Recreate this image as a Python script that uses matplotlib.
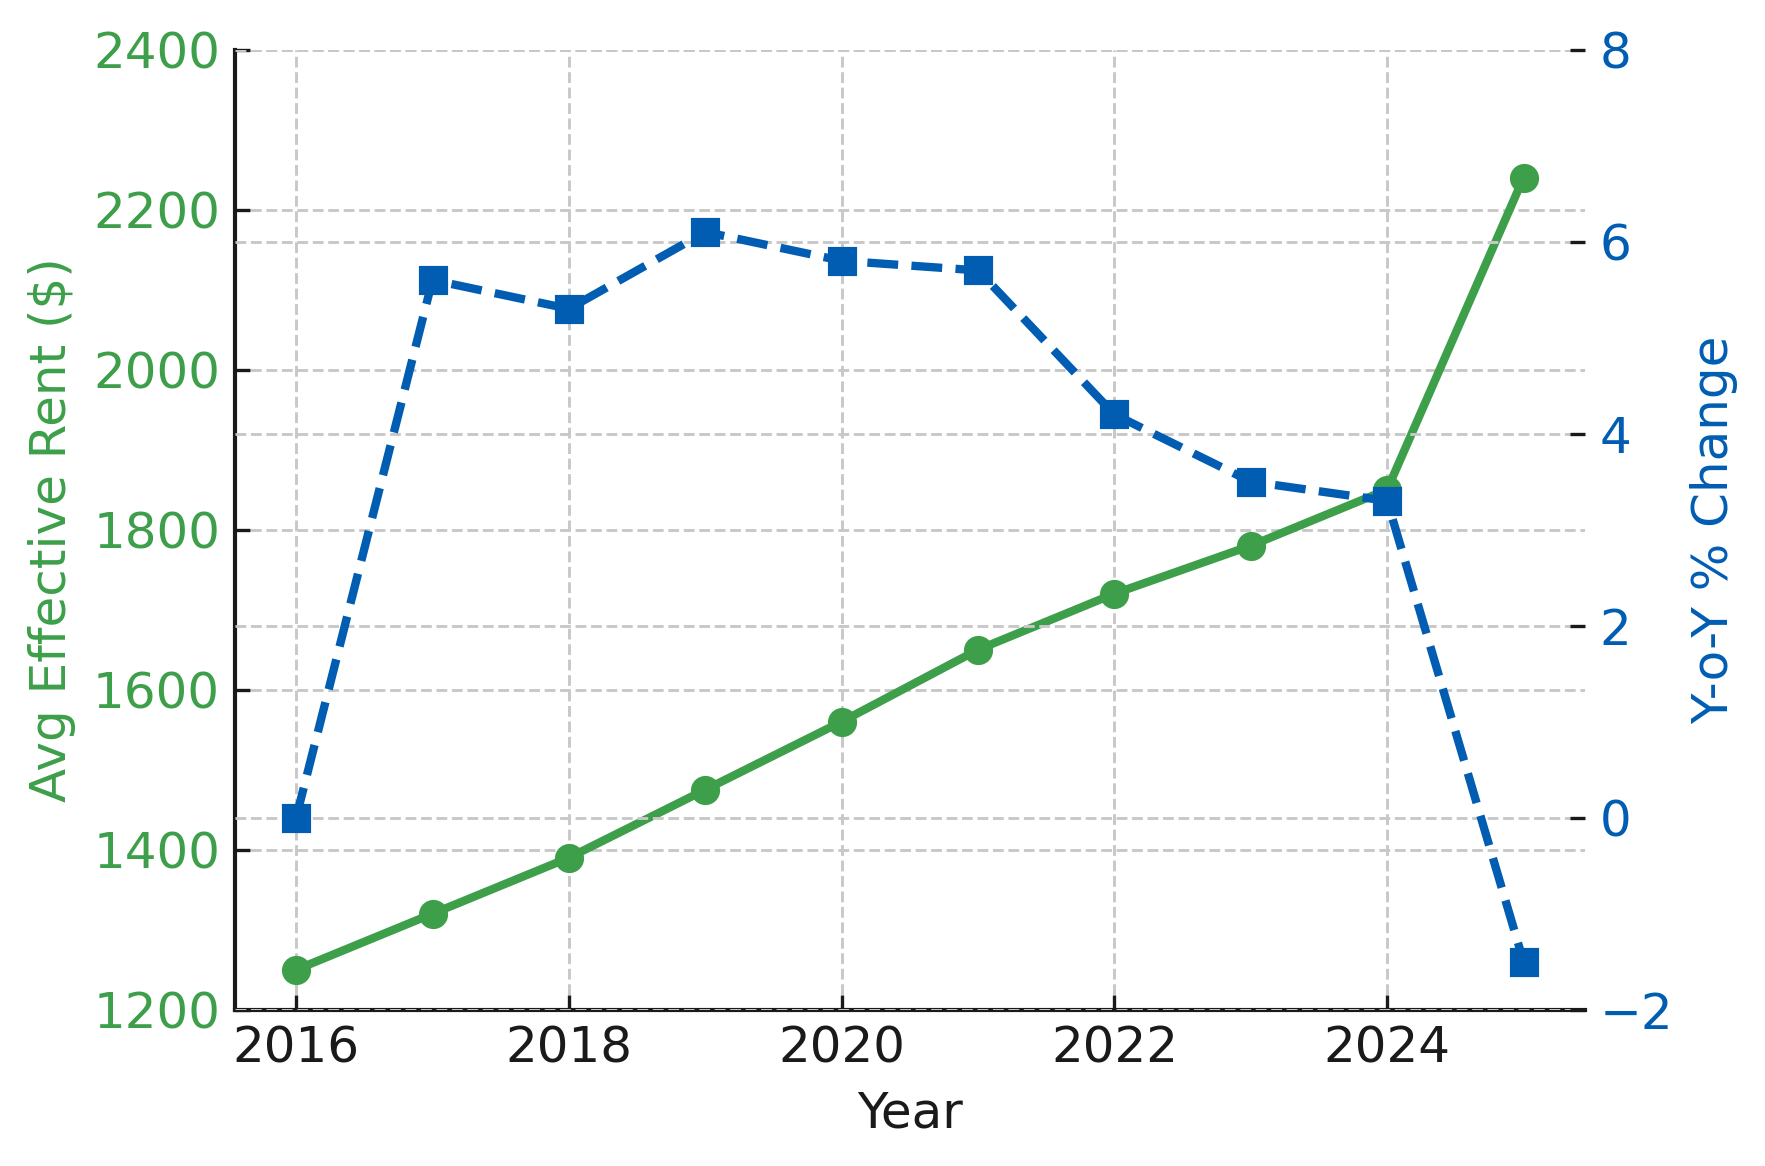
import matplotlib
matplotlib.use("Agg")
import matplotlib.pyplot as plt

# data
years = [2016, 2017, 2018, 2019, 2020, 2021, 2022, 2023, 2024, 2025]
rent = [1250, 1320, 1390, 1475, 1560, 1650, 1720, 1780, 1850, 2240]
yoy = [0.0, 5.6, 5.3, 6.1, 5.8, 5.7, 4.2, 3.5, 3.3, -1.5]

green = "#3d9f49"
blue = "#005db2"
grid_kw = dict(color="#c8c8c8", linestyle="--", linewidth=0.7)

plt.rcParams["font.family"] = ["DejaVu Sans"]
plt.rcParams["font.size"] = 12

fig, ax1 = plt.subplots(figsize=(1765 / 300, 1166 / 300), dpi=300)
fig.subplots_adjust(left=0.133, right=0.898, bottom=0.134, top=0.9575)

ax1.plot(years, rent, color=green, linewidth=2.0, marker="o", markersize=6)
ax1.set_ylim(1200, 2400)
ax1.set_yticks([1200, 1400, 1600, 1800, 2000, 2200, 2400])
ax1.set_xticks([2016, 2018, 2020, 2022, 2024])
ax1.set_xlabel("Year", color="#1a1a1a")
ax1.set_ylabel("Avg Effective Rent ($)", color=green)
ax1.tick_params(axis="y", colors="#1a1a1a", labelcolor=green, direction="in")
ax1.tick_params(axis="x", colors="#1a1a1a", labelcolor="#1a1a1a", direction="in")
ax1.grid(True, **grid_kw)
ax1.spines["top"].set_visible(False)
ax1.spines["right"].set_visible(False)
for s in ["left", "bottom"]:
    ax1.spines[s].set_linewidth(1.0)
    ax1.spines[s].set_color("#1a1a1a")

ax2 = ax1.twinx()
ax2.plot(years, yoy, color=blue, linewidth=2.0, linestyle="--", marker="s", markersize=6)
ax2.set_ylim(-2, 8)
ax2.set_yticks([-2, 0, 2, 4, 6, 8])
ax2.set_ylabel("Y-o-Y % Change", color=blue)
ax2.tick_params(axis="y", colors="#1a1a1a", labelcolor=blue, direction="in")
ax2.grid(True, axis="y", **grid_kw)
for s in ["top", "right", "left", "bottom"]:
    ax2.spines[s].set_visible(False)

fig.savefig("out.png", dpi=300)
